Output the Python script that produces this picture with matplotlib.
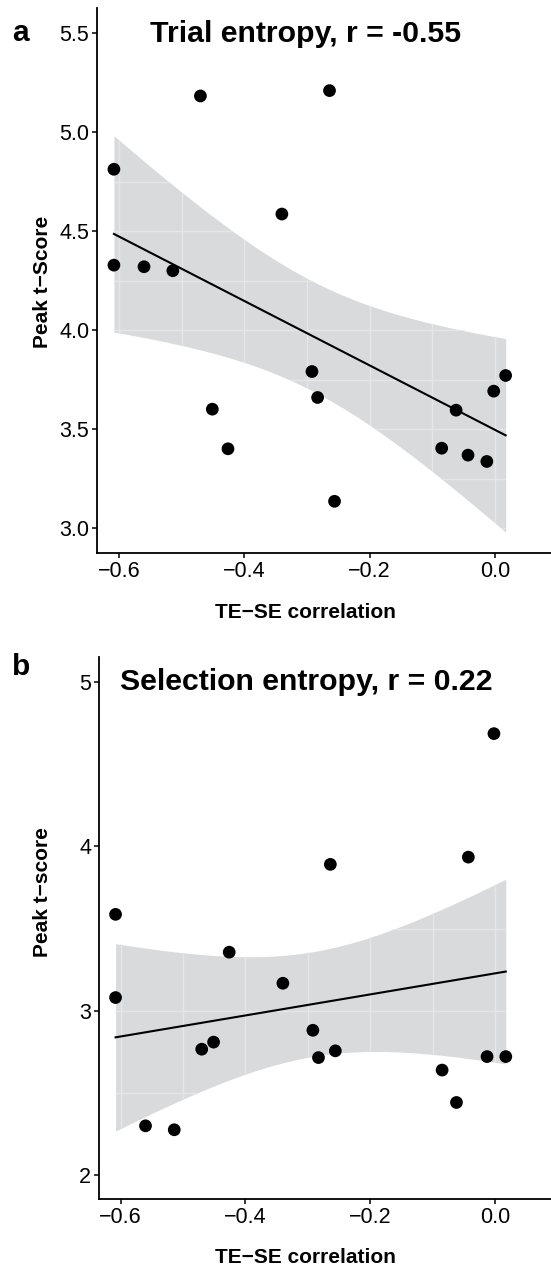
import numpy as np
import matplotlib
matplotlib.use('Agg')
import matplotlib.pyplot as plt

plt.rcParams['font.family'] = ['Liberation Sans', 'DejaVu Sans']

# TE-SE correlation (same subjects in both panels)
te_se_corr = [-0.608, -0.608, -0.560, -0.514, -0.470, -0.451, -0.426, -0.340, -0.292,
              -0.283, -0.264, -0.256, -0.085, -0.062, -0.043, -0.013, -0.002, 0.017]
# peak t-scores, trial entropy
trial_peak = [4.812, 4.328, 4.320, 4.300, 5.182, 3.601, 3.401, 4.586, 3.791,
              3.660, 5.209, 3.136, 3.404, 3.596, 3.369, 3.337, 3.692, 3.771]
# peak t-scores, selection entropy
sel_peak = [3.587, 3.081, 2.301, 2.277, 2.767, 2.810, 3.357, 3.168, 2.882,
            2.716, 3.891, 2.757, 2.640, 2.443, 3.935, 2.722, 4.686, 2.722]

x_ticks = [-0.6, -0.4, -0.2, 0.0]
x_tick_labels = ['\u22120.6', '\u22120.4', '\u22120.2', '0.0']
a_yticks = [3.0, 3.5, 4.0, 4.5, 5.0, 5.5]
b_yticks = [2, 3, 4, 5]

W, H = 551, 1268
fig = plt.figure(figsize=(W / 100, H / 100), dpi=100)

band_col = '#d9dadc'
grid_col = '#e6e6e8'
T975 = 2.1199  # t quantile, df = 16


def lm_fit(x, y, n=80):
    x = np.asarray(x)
    y = np.asarray(y)
    b1, b0 = np.polyfit(x, y, 1)
    xs = np.linspace(x.min(), x.max(), n)
    fit = b0 + b1 * xs
    resid = y - (b0 + b1 * x)
    s = np.sqrt(np.sum(resid ** 2) / (len(x) - 2))
    se = s * np.sqrt(1 / len(x) + (xs - x.mean()) ** 2 / np.sum((x - x.mean()) ** 2))
    return xs, fit, fit - T975 * se, fit + T975 * se


def panel(rect, x, y, ylim, yticks, yticklabels, grid_y):
    ax = fig.add_axes(rect)
    xs, fit, lo, hi = lm_fit(x, y)
    band = ax.fill_between(xs, lo, hi, color=band_col, lw=0, zorder=1)
    clip = band.get_paths()[0]
    for gx in np.arange(-0.6, 0.01, 0.1):
        ln = ax.axvline(gx, color=grid_col, lw=1.0, zorder=1.5)
        ln.set_clip_path(clip, ax.transData)
    for gy in grid_y:
        ln = ax.axhline(gy, color=grid_col, lw=1.0, zorder=1.5)
        ln.set_clip_path(clip, ax.transData)
    ax.plot(xs, fit, color='black', lw=1.5, zorder=2)
    ax.scatter(x, y, s=84, color='black', edgecolor='none', zorder=3)
    ax.set_xlim(-0.635, 0.0894)
    ax.set_ylim(*ylim)
    ax.set_xticks(x_ticks)
    ax.set_xticklabels(x_tick_labels)
    ax.set_yticks(yticks)
    ax.set_yticklabels(yticklabels)
    for s in ['top', 'right']:
        ax.spines[s].set_visible(False)
    for s in ['left', 'bottom']:
        ax.spines[s].set_linewidth(1.3)
    ax.tick_params(direction='out', length=3.5, width=1.1, labelsize=15.5,
                   colors='black', pad=2)
    return ax


panel([97 / W, 1 - 553 / H, (W - 97) / W, (553 - 8) / H],
      te_se_corr, trial_peak, (2.875, 5.626), a_yticks,
      ['3.0', '3.5', '4.0', '4.5', '5.0', '5.5'], np.arange(3.0, 5.51, 0.25))
panel([98.7 / W, 1 - 1199 / H, (W - 98.7) / W, (1199 - 657) / H],
      te_se_corr, sel_peak, (1.856, 5.152), b_yticks,
      ['2', '3', '4', '5'], np.arange(2.0, 5.01, 0.5))

# titles, labels
fig.text(306 / W, 1 - 41.5 / H, 'Trial entropy, r = -0.55', ha='center', va='baseline',
         fontsize=21.8, fontweight='bold')
fig.text(306 / W, 1 - 690 / H, 'Selection entropy, r = 0.22', ha='center', va='baseline',
         fontsize=21.8, fontweight='bold')
fig.text(12 / W, 1 - 41 / H, 'a', ha='left', va='baseline', fontsize=21.5, fontweight='bold')
fig.text(12 / W, 1 - 675 / H, 'b', ha='left', va='baseline', fontsize=21.5, fontweight='bold')
fig.text(305.5 / W, 1 - 618 / H, 'TE\u2212SE correlation', ha='center', va='baseline',
         fontsize=15, fontweight='bold')
fig.text(305.5 / W, 1 - 1263 / H, 'TE\u2212SE correlation', ha='center', va='baseline',
         fontsize=15, fontweight='bold')
fig.text(42 / W, 1 - 282 / H, 'Peak t\u2212Score', ha='center', va='center', rotation=90,
         fontsize=15, fontweight='bold')
fig.text(42 / W, 1 - 892 / H, 'Peak t\u2212score', ha='center', va='center', rotation=90,
         fontsize=15, fontweight='bold')

fig.savefig('out.png', dpi=100)
